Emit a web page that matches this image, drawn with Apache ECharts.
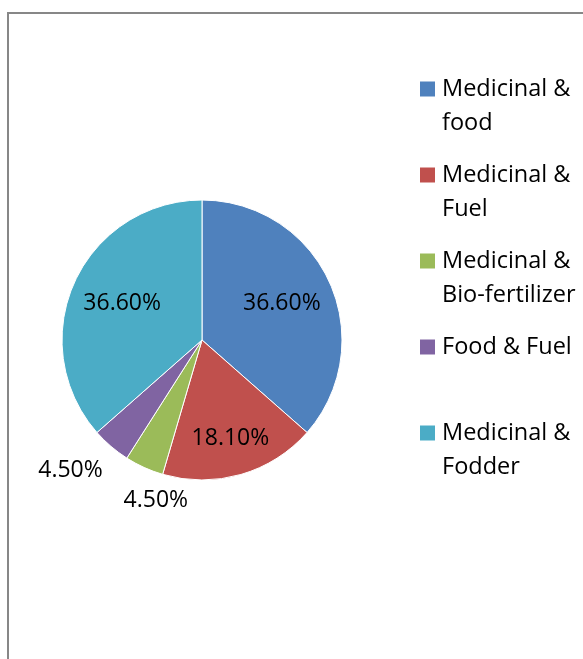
<!DOCTYPE html>
<html>
<head>
<meta charset="utf-8">
<script src="https://cdn.jsdelivr.net/npm/echarts@6/dist/echarts.min.js"></script>
<style>
  html, body { margin: 0; padding: 0; background: #fff; }
  #chart { width: 583px; height: 659px; }
</style>
</head>
<body>
<div id="chart"></div>
<script>
var categories = ['Medicinal & food', 'Medicinal & Fuel', 'Medicinal & Bio-fertilizer', 'Food & Fuel', 'Medicinal & Fodder']
var legendLines = ['Medicinal &\nfood', 'Medicinal &\nFuel', 'Medicinal &\nBio-fertilizer', 'Food & Fuel\n ', 'Medicinal &\nFodder']
var shares = [36.6, 18.1, 4.5, 4.5, 36.6]
var colors = ['#4f81bd', '#c0504d', '#9bbb59', '#8064a2', '#4bacc6']

var center = [202, 340]
// inside labels pushed outward a bit, small slices get their labels moved outside
var labelPush = [1.2, 1.4, 0, 0, 1.2]
var labelNudge = { 2: [-16, 94], 3: [-84, 75] }

var chart = echarts.init(document.getElementById('chart'))

chart.setOption({
  animation: false,
  graphic: [{
    type: 'rect',
    shape: { x: 8, y: 13, width: 640, height: 720 },
    style: { fill: 'none', stroke: '#878787', lineWidth: 2 },
    silent: true
  }],
  legend: {
    orient: 'vertical',
    left: 420,
    top: 72,
    padding: 0,
    itemWidth: 15,
    itemHeight: 68,
    itemGap: 18,
    icon: 'path://M0,0M0,68M0,9.5h15v15h-15z',
    itemStyle: { borderWidth: 0 },
    formatter: function(name) {
      return legendLines[categories.indexOf(name)]
    },
    textStyle: {
      fontFamily: 'Open Sans',
      fontSize: 23.5,
      lineHeight: 34,
      color: '#000',
      padding: [0, 0, 0, 2]
    },
    data: categories
  },
  series: [{
    type: 'pie',
    center: center,
    radius: 140,
    startAngle: 90,
    clockwise: true,
    avoidLabelOverlap: false,
    silent: true,
    itemStyle: {
      borderColor: '#fff',
      borderWidth: 1
    },
    label: {
      show: true,
      position: 'inside',
      fontFamily: 'Open Sans',
      fontSize: 23,
      color: '#000',
      formatter: function(p) {
        return p.value.toFixed(2) + '%'
      }
    },
    labelLine: { show: false },
    labelLayout: function(p) {
      var r = p.labelRect
      var i = p.dataIndex
      if (labelNudge[i]) {
        return { dx: labelNudge[i][0], dy: labelNudge[i][1] }
      }
      var lx = r.x + r.width / 2
      var ly = r.y + r.height / 2
      var k = labelPush[i] - 1
      return { dx: (lx - center[0]) * k, dy: (ly - center[1]) * k }
    },
    data: categories.map(function(name, i) {
      return { name: name, value: shares[i], itemStyle: { color: colors[i] } }
    })
  }]
})
</script>
</body>
</html>
